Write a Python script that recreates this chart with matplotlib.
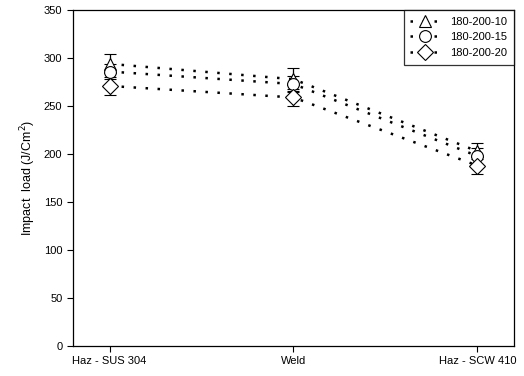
import numpy as np
import matplotlib.pyplot as plt
from matplotlib.lines import Line2D

plt.rcParams['font.family'] = ['Liberation Sans', 'DejaVu Sans']

# data
positions = ['Haz - SUS 304', 'Weld', 'Haz - SCW 410']
series = ['180-200-10', '180-200-15', '180-200-20']
load_10 = [294, 278, 203]
load_15 = [286, 273, 198]
load_20 = [271, 259, 188]
err_10 = [10, 12, 8]
err_15 = [8, 8, 8]
err_20 = [9, 9, 9]

x = np.arange(len(positions))

fig = plt.figure(figsize=(5.24, 3.76), dpi=100)
ax = fig.add_axes([0.139, 0.080, 0.842, 0.893])

dots = (0, (1, 3.8))
handles = []
for vals, errs, mk, lab in [(load_10, err_10, '^', series[0]),
                             (load_15, err_15, 'o', series[1]),
                             (load_20, err_20, 'D', series[2])]:
    ms = 8.5 if mk != 'D' else 8
    ax.errorbar(x, vals, yerr=errs, color='black', ecolor='black',
                linestyle=dots, linewidth=1.8, dash_capstyle='butt',
                marker=mk, markersize=ms,
                markerfacecolor='white', markeredgecolor='black',
                markeredgewidth=0.8, capsize=4.5, capthick=1.2,
                elinewidth=0.9)
    handles.append(Line2D([], [], color='black', linestyle=dots, linewidth=1.8,
                          dash_capstyle='butt', marker=mk, markersize=ms,
                          markerfacecolor='white', markeredgecolor='black',
                          markeredgewidth=0.8, label=lab))

ax.set_xlim(-0.2, 2.2)
ax.set_ylim(0, 350)
ax.set_yticks(np.arange(0, 351, 50))
ax.set_xticks(x)
ax.set_xticklabels(positions)
ax.tick_params(direction='out', length=4, width=0.8, labelsize=8, colors='black')
for s in ax.spines.values():
    s.set_linewidth(0.9)
ax.set_ylabel('Impact  load (J/Cm$^2$)', fontsize=9)

leg = ax.legend(handles=handles, loc='upper right', fontsize=8, frameon=True,
                fancybox=False, borderaxespad=0, handlelength=2.6,
                labelspacing=0.5, borderpad=0.6, handletextpad=1.0)
leg.get_frame().set_edgecolor('black')
leg.get_frame().set_linewidth(0.9)

fig.savefig('out.png', dpi=100)
